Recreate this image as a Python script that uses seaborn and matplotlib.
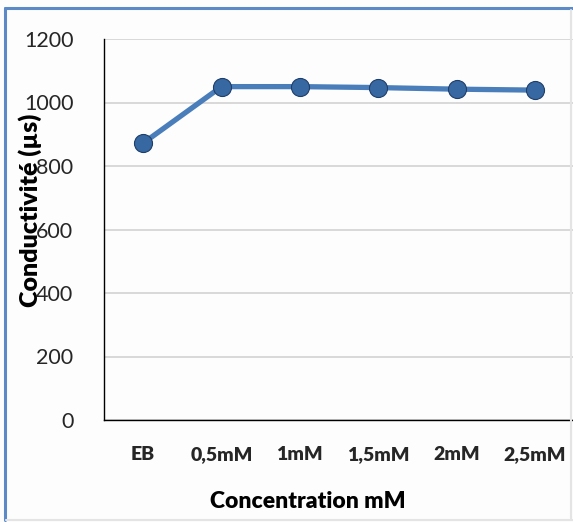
import matplotlib
matplotlib.use("Agg")
import matplotlib.pyplot as plt
import seaborn as sns
import pandas as pd
from matplotlib.lines import Line2D

categories = ["EB", "0,5mM", "1mM", "1,5mM", "2mM", "2,5mM"]
conductivity = [872, 1050, 1050, 1047, 1042, 1039]
y_ticks = [0, 200, 400, 600, 800, 1000, 1200]

sns.set_theme(style="white")
plt.rcParams["font.family"] = ["Lato", "DejaVu Sans"]

df = pd.DataFrame({"cat": categories, "val": conductivity})

W, H = 573, 522
fig = plt.figure(figsize=(W / 100, H / 100), dpi=100)
fig.patch.set_facecolor("#FDFDFD")

def fx(px):
    return px / W

def fy(py):
    return 1 - py / H

# chart frame: blue on top/left, faint grey shadow right/bottom
fig.lines.append(Line2D([fx(5), fx(5)], [fy(8), fy(520)], transform=fig.transFigure,
                        color="#5B8AC6", linewidth=2.2))
fig.lines.append(Line2D([fx(5), fx(573)], [fy(8), fy(8)], transform=fig.transFigure,
                        color="#5B8AC6", linewidth=2.2))
fig.lines.append(Line2D([fx(6), fx(573)], [fy(519.5), fy(519.5)], transform=fig.transFigure,
                        color="#E4E4E4", linewidth=1.5))
fig.lines.append(Line2D([fx(570.5), fx(570.5)], [fy(10), fy(519)], transform=fig.transFigure,
                        color="#E4E4E4", linewidth=1.5))

ax = fig.add_axes([fx(104), fy(420), 470 / W, 381 / H])
ax.set_facecolor("#FDFDFD")

sns.lineplot(data=df, x="cat", y="val", sort=False, ax=ax, color="#4A7EBB", linewidth=3.8,
             marker="o", markersize=13, markerfacecolor="#3768A2",
             markeredgecolor="#1F3F6A", markeredgewidth=0.8, zorder=3)

ax.set_xlim(-0.5, 5.5)
ax.set_ylim(0, 1200)
ax.set_yticks(y_ticks)
ax.set_yticklabels([str(t) for t in y_ticks], fontsize=15.5)
ax.set_xticks(range(len(categories)))
ax.set_xticklabels(categories, fontsize=14, fontweight="heavy")
ax.tick_params(axis="y", length=0, pad=22)
ax.tick_params(axis="x", length=0, pad=19)

ax.yaxis.grid(True, color="#D9D9D9", linewidth=1.4)
ax.set_axisbelow(True)
for s in ["top", "right"]:
    ax.spines[s].set_visible(False)
for s in ["left", "bottom"]:
    ax.spines[s].set_color("black")
    ax.spines[s].set_linewidth(1.0)

ax.set_xlabel("")
ax.set_ylabel("")
fig.text(fx(30), fy(210), "Conductivité (µs)", rotation=90, ha="center", va="center",
         fontsize=18, fontweight="heavy", color="black")
fig.text(fx(308), fy(502), "Concentration mM", ha="center", va="center",
         fontsize=16.5, fontweight="heavy", color="black")

fig.savefig("out.png", dpi=100, facecolor=fig.get_facecolor())
